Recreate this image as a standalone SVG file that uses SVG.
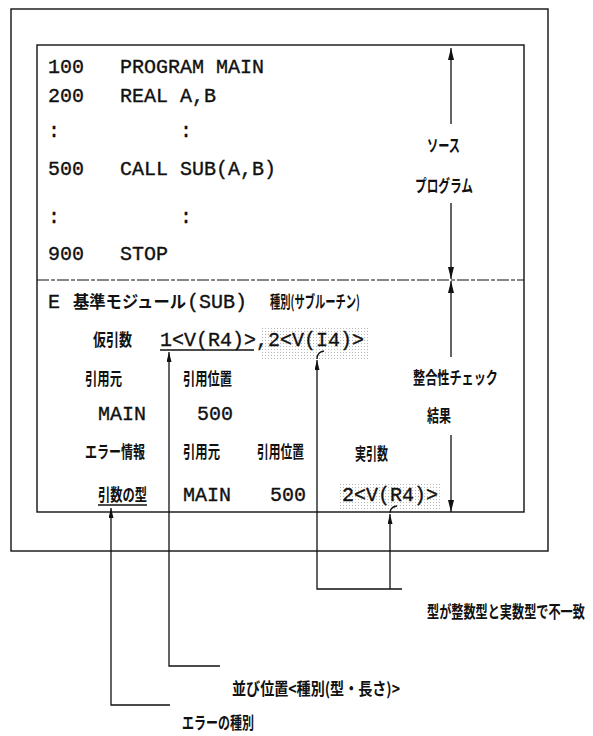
<svg xmlns="http://www.w3.org/2000/svg" width="593" height="736" viewBox="0 0 593 736">
<style>
.m{font-family:"Liberation Mono","DejaVu Sans Mono",monospace;font-size:20px;fill:#111;stroke:#111;stroke-width:0.35}
.j{font-family:"Noto Sans CJK JP","Noto Sans",sans-serif;font-weight:700;font-size:17px;fill:#111}
.fr{fill:none;stroke:#111;stroke-width:1.4}
.ln{fill:none;stroke:#111;stroke-width:1.3}
.ds{fill:none;stroke:#111;stroke-width:1.2;stroke-dasharray:12 2 4 2}
</style>
<defs>
<marker id="a" viewBox="0 0 12 6" refX="12" refY="3" markerWidth="12" markerHeight="6" markerUnits="userSpaceOnUse" orient="auto-start-reverse"><path d="M0,0 L12,3 L0,6 z" fill="#111"/></marker>
<marker id="s" viewBox="0 0 10 5" refX="10" refY="2.5" markerWidth="10" markerHeight="5" markerUnits="userSpaceOnUse" orient="auto-start-reverse"><path d="M0,0 L10,2.5 L0,5 z" fill="#111"/></marker>
<pattern id="dots" width="3" height="3" patternUnits="userSpaceOnUse"><circle cx="1.5" cy="1.5" r="0.55" fill="#aaa"/></pattern>
</defs>

<g id="frames">
<rect class="fr" x="11" y="9" width="537" height="542"/>
<rect class="fr" x="37" y="45" width="487" height="467"/>
<line class="ds" x1="37" y1="280" x2="524" y2="280"/>
</g>

<g id="shading">
<rect x="262" y="327" width="106" height="32" fill="url(#dots)"/>
<rect x="338" y="482" width="102" height="28" fill="url(#dots)"/>
</g>

<g id="source-program">
<text class="m" x="48" y="73">100</text><text class="m" x="120" y="73">PROGRAM MAIN</text>
<text class="m" x="48" y="102">200</text><text class="m" x="120" y="102">REAL A,B</text>
<text class="m" x="48" y="137">:</text><text class="m" x="180" y="137">:</text>
<text class="m" x="48" y="175">500</text><text class="m" x="120" y="175">CALL SUB(A,B)</text>
<text class="m" x="48" y="223">:</text><text class="m" x="180" y="223">:</text>
<text class="m" x="48" y="260">900</text><text class="m" x="120" y="260">STOP</text>
</g>

<g id="source-label">
<text class="j" x="427" y="152" textLength="33" lengthAdjust="spacingAndGlyphs">ソース</text>
<text class="j" x="415" y="192" textLength="58" lengthAdjust="spacingAndGlyphs">プログラム</text>
</g>

<g id="check-label">
<text class="j" x="413" y="384" textLength="85" lengthAdjust="spacingAndGlyphs">整合性チェック</text>
<text class="j" x="427" y="422" textLength="24" lengthAdjust="spacingAndGlyphs">結果</text>
</g>

<g id="check-result">
<text class="m" x="48" y="308">E</text>
<text class="j" x="73" y="308" textLength="113" lengthAdjust="spacingAndGlyphs">基準モジュール</text>
<text class="m" x="187" y="308">(SUB)</text>
<text class="j" x="270" y="308" textLength="90" lengthAdjust="spacingAndGlyphs">種別(サブルーチン)</text>
<text class="j" x="93" y="346" textLength="39" lengthAdjust="spacingAndGlyphs">仮引数</text>
<text class="m" x="160" y="346">1&lt;V(R4)&gt;,2&lt;V(I4)&gt;</text>
<line class="ln" x1="160" y1="350" x2="254" y2="350"/>
<text class="j" x="85" y="385" textLength="37" lengthAdjust="spacingAndGlyphs">引用元</text>
<text class="j" x="183" y="385" textLength="49" lengthAdjust="spacingAndGlyphs">引用位置</text>
<text class="m" x="98" y="420">MAIN</text>
<text class="m" x="197" y="420">500</text>
<text class="j" x="85" y="458" textLength="60" lengthAdjust="spacingAndGlyphs">エラー情報</text>
<text class="j" x="183" y="458" textLength="37" lengthAdjust="spacingAndGlyphs">引用元</text>
<text class="j" x="257" y="458" textLength="47" lengthAdjust="spacingAndGlyphs">引用位置</text>
<text class="j" x="355" y="460" textLength="33" lengthAdjust="spacingAndGlyphs">実引数</text>
<text class="j" x="98" y="501" textLength="49" lengthAdjust="spacingAndGlyphs">引数の型</text>
<line class="ln" x1="98" y1="505" x2="147" y2="505"/>
<text class="m" x="183" y="501">MAIN</text>
<text class="m" x="270" y="501">500</text>
<text class="m" x="342" y="501">2&lt;V(R4)&gt;</text>
</g>

<g id="annotations">
<text class="j" transform="translate(427,618) scale(0.715,1)" x="0" y="0">型が整数型と実数型で不一致</text>
<text class="j" x="232" y="695" textLength="168" lengthAdjust="spacingAndGlyphs">並び位置&lt;種別(型・長さ)&gt;</text>
<text class="j" transform="translate(182,729) scale(0.706,1)" x="0" y="0">エラーの種別</text>
</g>

<g id="connectors">
<path class="ln" d="M451,48 V124" marker-start="url(#a)"/>
<path class="ln" d="M451,203 V279" marker-end="url(#a)"/>
<path class="ln" d="M451,281 V357" marker-start="url(#a)"/>
<path class="ln" d="M451,435 V512" marker-end="url(#a)"/>
<path class="ln" d="M111,508 V705 H170" marker-start="url(#s)"/>
<path class="ln" d="M169,352 V666 H220" marker-start="url(#s)"/>
<path class="ln" d="M317,360 V589 H402" marker-start="url(#s)"/>
<path class="ln" d="M317,359 Q317,352 324,351"/>
<path class="ln" d="M390,514 V589" marker-start="url(#s)"/>
<path class="ln" d="M390,513 Q390,507 397,506"/>
</g>
</svg>
